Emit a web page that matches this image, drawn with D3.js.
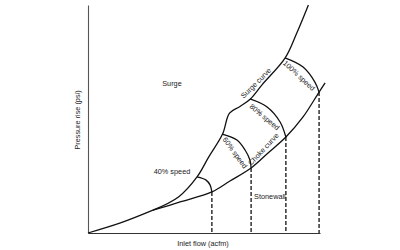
<!DOCTYPE html>
<html>
<head>
<meta charset="utf-8">
<script src="https://cdn.jsdelivr.net/npm/d3@7"></script>
<style>
  body { margin: 0; background: #fff; }
  svg text { font-family: "Liberation Sans", Arial, sans-serif; font-size: 7.3px; fill: #222; }
</style>
</head>
<body>
<svg width="400" height="250"></svg>
<script>
// operating map values (flow %, pressure %)
var baseCurve = [[0, 0], [14, 4.4], [28, 10]];
var surgeCurve = [[28, 10], [39, 15.8], [47, 24.6], [52, 33.3], [58, 43.4], [61, 52.6],
                  [65.5, 55.5], [70, 58.8], [75, 65], [85, 76.8], [90, 87.7], [95, 100]];
var chokeCurve = [[28, 10], [39.7, 13.6], [53.4, 18], [61.2, 22.8], [70.3, 28.5],
                  [77.6, 35.1], [85.3, 42.1], [92.7, 50.9], [99.6, 61.8], [102.2, 65.8]];
var speedNames = ["40%", "60%", "80%", "100%"];
var speedLines = [
  [[47, 24.6], [50.9, 23.2], [52.6, 21.1], [53.4, 18]],
  [[57.8, 43.4], [64.2, 40.8], [67.7, 36.4], [69.8, 32], [70.3, 28.5]],
  [[69.8, 58.8], [77.2, 55.3], [82.8, 48.7], [85.3, 42.1]],
  [[84.9, 76.8], [92.7, 72.8], [97.8, 66.2], [99.6, 61.8]]
];

var svg = d3.select("svg");

var xScale = d3.scaleLinear().domain([0, 100]).range([88, 320]);
var yScale = d3.scaleLinear().domain([0, 100]).range([233, 5]);

var line = d3.line()
  .x(function(d) { return xScale(d[0]); })
  .y(function(d) { return yScale(d[1]); })
  .curve(d3.curveCatmullRom.alpha(0.5));

// axes (plain lines, no ticks)
var xAxis = d3.axisBottom(xScale).tickValues([]).tickSizeOuter(0);
var yAxis = d3.axisLeft(yScale).tickValues([]).tickSizeOuter(0);
svg.append("g").attr("transform", "translate(0," + yScale(0) + ")").call(xAxis)
  .select(".domain").attr("stroke", "#333").attr("stroke-width", 1.1);
svg.append("g").attr("transform", "translate(" + xScale(0) + ",0)").call(yAxis)
  .select(".domain").attr("stroke", "#555").attr("stroke-width", 1.1);

// stonewall dashed verticals
svg.selectAll("line.wall")
  .data(speedLines)
  .enter()
  .append("line")
  .attr("class", "wall")
  .attr("x1", function(d) { return xScale(d[d.length - 1][0]); })
  .attr("x2", function(d) { return xScale(d[d.length - 1][0]); })
  .attr("y1", function(d) { return yScale(d[d.length - 1][1]); })
  .attr("y2", yScale(0))
  .attr("stroke", "#111")
  .attr("stroke-width", 1.3)
  .attr("stroke-dasharray", "4,2");

// curves
[baseCurve, surgeCurve, chokeCurve].forEach(function(c) {
  svg.append("path")
    .attr("d", line(c))
    .attr("fill", "none")
    .attr("stroke", "#111")
    .attr("stroke-width", 1.3);
});

svg.selectAll("path.speed")
  .data(speedLines)
  .enter()
  .append("path")
  .attr("class", "speed")
  .attr("d", line)
  .attr("fill", "none")
  .attr("stroke", "#111")
  .attr("stroke-width", 1.3);

// labels
function label(txt, x, y, rot) {
  svg.append("text")
    .attr("transform", "translate(" + xScale(x) + "," + yScale(y) + ") rotate(" + (rot || 0) + ")")
    .attr("text-anchor", "middle")
    .attr("dy", "0.35em")
    .text(txt);
}

label("Surge", 36.2, 65.8);
label(speedNames[0] + " speed", 36.2, 26.8);
label("Stonewall", 78.4, 16.2);
label("Surge curve", 72.4, 65.8, -45);
label(speedNames[3] + " speed", 91, 69, 43);
label(speedNames[2] + " speed", 76.1, 50.9, 40);
label(speedNames[1] + " speed", 63.4, 35.2, 54);
label("Choke curve", 75.6, 36.8, -47);

svg.append("text")
  .attr("transform", "translate(203,243)")
  .attr("text-anchor", "middle")
  .attr("dy", "0.35em")
  .text("Inlet flow (acfm)");

svg.append("text")
  .attr("transform", "translate(77,120) rotate(-90)")
  .attr("text-anchor", "middle")
  .attr("dy", "0.35em")
  .text("Pressure rise (psi)");
</script>
</body>
</html>
